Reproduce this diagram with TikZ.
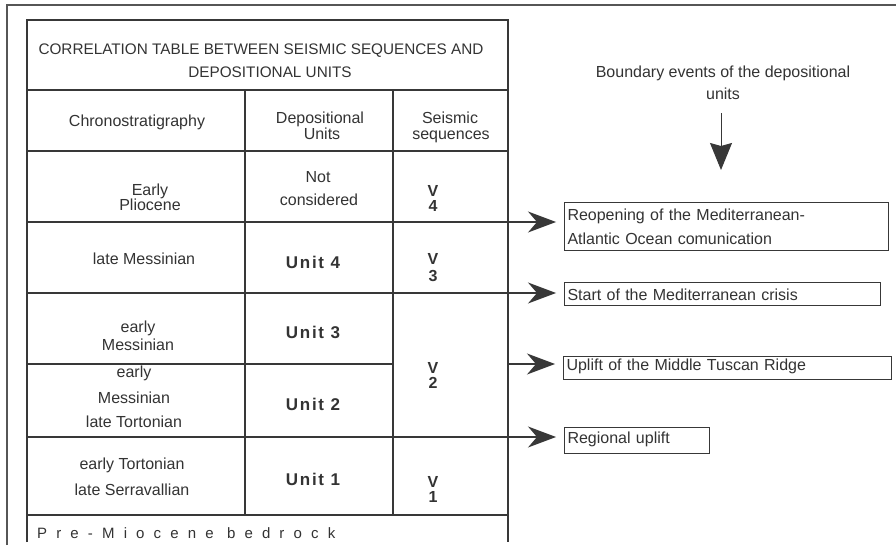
\documentclass[tikz,border=0pt]{standalone}
\usepackage{fontspec}
\setmainfont{Liberation Sans}
\usetikzlibrary{arrows.meta}
\definecolor{ink}{HTML}{333333}
\definecolor{rulec}{HTML}{383838}
\newcommand{\fsz}[1]{\fontsize{#1}{#1}\selectfont}
\begin{document}
\begin{tikzpicture}[x=1pt,y=-1pt,
  tline/.style={draw=rulec,line width=1.4pt},
  oline/.style={draw=rulec!85,line width=1.2pt},
  tx/.style={text=ink,inner sep=0pt,anchor=base,font=\fsz{16}},
  ttl/.style={tx,font=\fsz{15.3}},
  unitx/.style={tx,font=\fsz{17}\bfseries\addfontfeature{LetterSpace=10}},
  vx/.style={tx,font=\fsz{16}\bfseries},
  evbox/.style={draw=rulec,line width=1pt,inner ysep=0pt,inner xsep=3pt,text=ink,
    font=\fontsize{16}{24}\selectfont,anchor=north west,align=left},
  harr/.style={draw=rulec,line width=1.4pt,shorten >=8pt,
    -{Stealth[length=28pt,width=21pt,inset=9pt]}},
  darr/.style={draw=rulec,line width=1pt,shorten <=13pt,
    -{Stealth[length=27pt,width=22pt,inset=3pt]}}
]
\useasboundingbox (0,0) rectangle (896,553);
\fill[white] (0,0) rectangle (896,553);
% outer frame
\draw[oline] (7,545) -- (7,5) -- (896,5);
% table
\draw[tline] (27,542) -- (27,20) -- (508,20) -- (508,542);
\foreach \yy in {90,151,222,293,437,515}{\draw[tline] (27,\yy) -- (508,\yy);}
\draw[tline] (27,364) -- (393,364);
\draw[tline] (245,90) -- (245,515);
\draw[tline] (393,90) -- (393,515);
% title and headers
\node[ttl] (t1) at (261,55) {CORRELATION TABLE BETWEEN SEISMIC SEQUENCES AND};
\node[ttl] (t2) at (270,78) {DEPOSITIONAL UNITS};
\node[tx] (h1) at (137,127) {Chronostratigraphy};
\node[tx] (h2a) at (320,124) {Depositional};
\node[tx] (h2b) at (322,140) {Units};
\node[tx] (h3a) at (450,124) {Seismic};
\node[tx] (h3b) at (451,140) {sequences};
% row 1
\node[tx] (r1a) at (150,196) {Early};
\node[tx] (r1b) at (150,211) {Pliocene};
\node[tx] (n1a) at (318,183) {Not};
\node[tx] (n1b) at (319,206) {considered};
\node[vx] (v4a) at (433,197) {V};
\node[vx] (v4b) at (433,212) {4};
% row 2
\node[tx] (r2) at (144,265) {late Messinian};
\node[unitx] (u4) at (313,268) {Unit 4};
\node[vx] (v3a) at (433,265) {V};
\node[vx] (v3b) at (433,281) {3};
% row 3
\node[tx] (r3a) at (138,332) {early};
\node[tx] (r3b) at (138,350) {Messinian};
\node[unitx] (u3) at (313,338) {Unit 3};
\node[vx] (v2a) at (433,373) {V};
\node[vx] (v2b) at (433,388) {2};
% row 4
\node[tx] (r4a) at (134,377) {early};
\node[tx] (r4b) at (134,403) {Messinian};
\node[tx] (r4c) at (134,427) {late Tortonian};
\node[unitx] (u2) at (313,410) {Unit 2};
% row 5
\node[tx] (r5a) at (132,469) {early Tortonian};
\node[tx] (r5b) at (132,495) {late Serravallian};
\node[unitx] (u1) at (313,485) {Unit 1};
\node[vx] (v1a) at (433,487) {V};
\node[vx] (v1b) at (433,502) {1};
% bedrock
\node[tx,anchor=base west,font=\fsz{15}\addfontfeature{LetterSpace=61}] (pre) at (37,538) {Pre-Miocene bedrock};
% right side
\node[tx] (ev1) at (723,78) {Boundary events of the depositional};
\node[tx] (ev2) at (723,100) {units};
\coordinate (dtip) at (721,170);
\draw[darr] (ev2.south -| dtip) -- (dtip);
% event boxes
\node[evbox,text width=318pt,minimum height=48pt] (b1) at (564,202) {Reopening of the Mediterranean-\\Atlantic Ocean comunication};
\node[evbox,text width=310pt,text height=18pt,text depth=5pt] (b2) at (564,282) {Start of the Mediterranean crisis};
\node[evbox,text width=322pt,text height=14pt,text depth=9pt] (b3) at (563,356) {Uplift of the Middle Tuscan Ridge};
\node[evbox,text width=139pt,text height=16pt,text depth=10pt] (b4) at (564,427) {Regional uplift};
% arrows
\coordinate (a1) at (508,222);
\coordinate (a2) at (508,293);
\coordinate (a3) at (508,364);
\coordinate (a4) at (508,437);
\draw[harr] (a1) -- (b1.west |- a1);
\draw[harr] (a2) -- (b2.west |- a2);
\draw[harr] (a3) -- (b3.west |- a3);
\draw[harr] (a4) -- (b4.west |- a4);
\end{tikzpicture}
\end{document}
